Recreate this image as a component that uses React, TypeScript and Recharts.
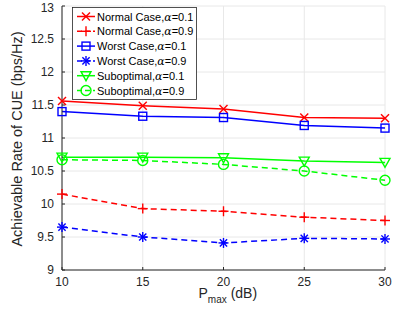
import React from "react";
import {
  LineChart,
  Line,
  XAxis,
  YAxis,
  CartesianGrid,
} from "recharts";

const pmax = [10, 15, 20, 25, 30];
const normal01 = [11.56, 11.49, 11.44, 11.31, 11.3];
const normal09 = [10.15, 9.93, 9.89, 9.8, 9.75];
const worst01 = [11.4, 11.33, 11.31, 11.19, 11.15];
const worst09 = [9.65, 9.5, 9.41, 9.48, 9.47];
const subopt01 = [10.71, 10.71, 10.7, 10.65, 10.63];
const subopt09 = [10.67, 10.66, 10.6, 10.5, 10.36];

const xTicks = [10, 15, 20, 25, 30];
const yTicks = [9, 9.5, 10, 10.5, 11, 11.5, 12, 12.5, 13];

const FONT = "'Liberation Sans', Arial, Helvetica, sans-serif";
const AXIS = "#262626";

type Shape = "x" | "plus" | "square" | "star" | "tri" | "circle";

const series: { key: string; name: string; color: string; dashed: boolean; shape: Shape }[] = [
  { key: "n1", name: "Normal Case,", color: "#ff0000", dashed: false, shape: "x" },
  { key: "n9", name: "Normal Case,", color: "#ff0000", dashed: true, shape: "plus" },
  { key: "w1", name: "Worst Case,", color: "#0000ff", dashed: false, shape: "square" },
  { key: "w9", name: "Worst Case,", color: "#0000ff", dashed: true, shape: "star" },
  { key: "s1", name: "Suboptimal,", color: "#00ff00", dashed: false, shape: "tri" },
  { key: "s9", name: "Suboptimal,", color: "#00ff00", dashed: true, shape: "circle" },
];
const alphas = ["0.1", "0.9", "0.1", "0.9", "0.1", "0.9"];

const data = pmax.map((p, i) => ({
  p,
  n1: normal01[i],
  n9: normal09[i],
  w1: worst01[i],
  w9: worst09[i],
  s1: subopt01[i],
  s9: subopt09[i],
}));

function Marker({ cx, cy, shape, color }: { cx: number; cy: number; shape: Shape; color: string }) {
  const sw = 1.4;
  switch (shape) {
    case "x":
      return (
        <g stroke={color} strokeWidth={sw}>
          <line x1={cx - 4} y1={cy - 4} x2={cx + 4} y2={cy + 4} />
          <line x1={cx - 4} y1={cy + 4} x2={cx + 4} y2={cy - 4} />
        </g>
      );
    case "plus":
      return (
        <g stroke={color} strokeWidth={sw}>
          <line x1={cx - 5} y1={cy} x2={cx + 5} y2={cy} />
          <line x1={cx} y1={cy - 5} x2={cx} y2={cy + 5} />
        </g>
      );
    case "square":
      return <rect x={cx - 4} y={cy - 4} width={8} height={8} fill="none" stroke={color} strokeWidth={sw} />;
    case "star":
      return (
        <g stroke={color} strokeWidth={sw}>
          <line x1={cx - 5} y1={cy} x2={cx + 5} y2={cy} />
          <line x1={cx} y1={cy - 5} x2={cx} y2={cy + 5} />
          <line x1={cx - 3.6} y1={cy - 3.6} x2={cx + 3.6} y2={cy + 3.6} />
          <line x1={cx - 3.6} y1={cy + 3.6} x2={cx + 3.6} y2={cy - 3.6} />
        </g>
      );
    case "tri":
      return (
        <polygon
          points={`${cx - 5},${cy - 4} ${cx + 5},${cy - 4} ${cx},${cy + 5}`}
          fill="none"
          stroke={color}
          strokeWidth={sw}
        />
      );
    default:
      return <circle cx={cx} cy={cy} r={5} fill="none" stroke={color} strokeWidth={sw} />;
  }
}

const makeDot = (shape: Shape, color: string) => (props: any) => (
  <Marker key={props.index} cx={props.cx} cy={props.cy} shape={shape} color={color} />
);

function LegendBox() {
  return (
    <svg
      width={126}
      height={94}
      style={{ position: "absolute", left: 72, top: 7 }}
    >
      <rect x={0.5} y={0.5} width={124} height={92} fill="#fff" stroke={AXIS} strokeWidth={0.8} />
      {series.map((s, i) => {
        const y = 9.5 + i * 14.8;
        return (
          <g key={s.key}>
            <line
              x1={5}
              x2={23}
              y1={y}
              y2={y}
              stroke={s.color}
              strokeWidth={1.5}
              strokeDasharray={s.dashed ? "5 3" : undefined}
            />
            <Marker cx={14} cy={y} shape={s.shape} color={s.color} />
            <text x={25} y={y + 4} fontSize={11} fontFamily={FONT} fill="#000">
              {s.name}
              <tspan fontFamily="'DejaVu Serif', serif" fontStyle="italic">α</tspan>
              {"=" + alphas[i]}
            </text>
          </g>
        );
      })}
    </svg>
  );
}

export default function App() {
  return (
    <div style={{ position: "absolute", left: 0, top: 0, width: 416, height: 316, background: "#fff" }}>
      <LineChart
        width={416}
        height={316}
        data={data}
        margin={{ top: 6, right: 31, left: 0, bottom: 0 }}
      >
        <CartesianGrid stroke="#e8e8e8" />
        <XAxis
          dataKey="p"
          type="number"
          domain={[10, 30]}
          ticks={xTicks}
          height={46}
          stroke={AXIS}
          tickSize={-3}
          tickMargin={10}
          tick={{ fontSize: 12, fontFamily: FONT, fill: AXIS }}
          label={(props: any) => {
            const vb = props.viewBox;
            const cx = vb.x + vb.width / 2;
            return (
              <text x={cx - 25} y={298} fontSize={14} fontFamily={FONT} fill={AXIS}>
                P
                <tspan fontSize={10} dy={5}>max</tspan>
                <tspan dy={-5}> (dB)</tspan>
              </text>
            );
          }}
        />
        <XAxis xAxisId="top" orientation="top" type="number" domain={[10, 30]} height={0} tick={false} tickLine={false} stroke={AXIS} />
        <YAxis
          type="number"
          domain={[9, 13]}
          ticks={yTicks}
          width={62}
          stroke={AXIS}
          tickSize={-3}
          tickMargin={11}
          tick={{ fontSize: 12, fontFamily: FONT, fill: AXIS }}
          label={() => (
            <text
              x={22}
              y={139}
              transform="rotate(-90 22 139)"
              textAnchor="middle"
              fontSize={14.5}
              fontFamily={FONT}
              fill={AXIS}
            >
              Achievable Rate of CUE (bps/Hz)
            </text>
          )}
        />
        <YAxis yAxisId="right" orientation="right" type="number" domain={[9, 13]} width={0} tick={false} tickLine={false} stroke={AXIS} />
        {series.map((s) => (
          <Line
            key={s.key}
            dataKey={s.key}
            stroke={s.color}
            strokeWidth={1.5}
            strokeDasharray={s.dashed ? "6 4" : undefined}
            dot={makeDot(s.shape, s.color)}
            activeDot={false}
            isAnimationActive={false}
          />
        ))}
      </LineChart>
      <LegendBox />
    </div>
  );
}
